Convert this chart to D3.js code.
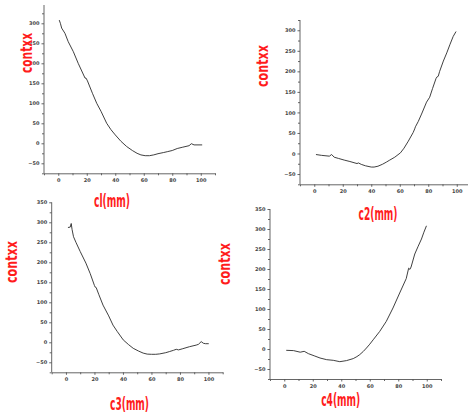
<!DOCTYPE html>
<html><head><meta charset="utf-8">
<script src="https://cdn.jsdelivr.net/npm/d3@7"></script>
<style>body{margin:0;background:#fff}svg{display:block}</style>
</head><body>
<svg id="chart" width="468" height="416"></svg>
<script>
// ---- data ----
const xTicks = [0, 20, 40, 60, 80, 100];
const yTicksTop = [-50, 0, 50, 100, 150, 200, 250, 300];
const yTicksBottom = [-50, 0, 50, 100, 150, 200, 250, 300, 350];
const xLabels = ["cl(mm)", "c2(mm)", "c3(mm)", "c4(mm)"];
const yLabel = "contxx";

const c1X = [0.7,1.5,2.4,4.7,7,10.6,14,18.8,19.5,20.5,24,27,30,34,37,40,44,48,52,55.3,58,61,64,67,70,74,76.5,80,83.5,87,91.8,93.4,95.3,101];
const c1Y = [308,300,288,275,254,229,200,163,163,156,125,100,80,50,34,21,5,-8,-18,-25,-29,-31,-31,-29,-26,-23,-21,-18,-13,-10,-6,-1,-4,-4];

const c2X = [1.2,5,10.6,12.2,14,17,21,25,30,31,33,36,40,42,44.7,48,50.6,53,56.5,60.5,63,66,69.4,70.5,71,73,75.3,78.8,81,83,85.5,86,87,88,90.6,93,95.3,97.5,99.5];
const c2Y = [-2.5,-4.5,-6.5,-2.5,-9,-12,-16,-19.5,-24.5,-23,-26.5,-30,-33,-33,-31,-26,-21,-16,-9,1.6,13,30,51,60,65,78,96,125,137,158,183,186,188,200,225,245,266,285,297];

const c3X = [1.4,3,3.7,4.3,5.3,7,10,14,17,20,20.5,21.2,23,26,30,33,36,40.2,44,47.2,51,54.2,57,60,63,65.8,70,72.8,75.5,77.4,79,82,86.7,91.4,93,94.9,96.5,98,100.2];
const c3Y = [287,288,297,282,264,250,227,198,172,142,138,137,120,93,66,43,27,6,-6,-15,-22,-27,-29.5,-30,-30,-29,-26,-23,-20,-17.5,-19,-16,-11,-7,-5,1.7,-2.5,-3.5,-3.5];

const c4X = [1.4,6.5,11.2,14,17,21,25.1,29.8,34.4,39,43.7,48.4,51,53,55.5,57.7,60,62.4,67,71.6,76.3,81,85.6,87.3,88.2,89,91.6,94,96.3,98,99.8];
const c4Y = [-3.3,-4,-8,-5.8,-11.7,-17,-22.5,-26.7,-28.3,-31.7,-29,-24,-19,-14,-6,2.5,12,23,44,69,102.5,140,176,202,199,205,237.5,257,275,292,308];

// ---- layout (positions only) ----
const panels = [
  {xs:c1X, ys:c1Y, xr:[44,215], yd:[-75,350], yr:[173.3,3.3], yAxisTop:5, yt:yTicksTop, lab:xLabels[0], lx:112, ly:207, lw:36, yx:31.5, yy:53, yw:40},
  {xs:c2X, ys:c2Y, xr:[300,471], yd:[-75,325], yr:[184.3,20], yAxisTop:20, yt:yTicksTop, lab:xLabels[1], lx:378, ly:220, lw:39, yx:267.5, yy:66, yw:42},
  {xs:c3X, ys:c3Y, xr:[51.7,222.7], yd:[-75,350], yr:[372.3,202.3], yAxisTop:202.3, yt:yTicksBottom, lab:xLabels[2], lx:129.5, ly:410, lw:39, yx:16.7, yy:262, yw:42},
  {xs:c4X, ys:c4Y, xr:[270,441], yd:[-75,350], yr:[379,209], yAxisTop:209, yt:yTicksBottom, lab:xLabels[3], lx:340.7, ly:406, lw:39, yx:230, yy:264, yw:42}
];

const svg = d3.select("#chart");
svg.append("rect").attr("width",468).attr("height",416).attr("fill","#fff");

const minorX = d3.range(-10, 111, 10).filter(v => !xTicks.includes(v));

panels.forEach(p => {
  const x = d3.scaleLinear().domain([-10,110]).range(p.xr);
  const y = d3.scaleLinear().domain(p.yd).range(p.yr);
  const g = svg.append("g");

  // x axis
  const xa = g.append("g").attr("transform", `translate(0,${p.yr[0]})`);
  xa.call(d3.axisBottom(x).tickValues(xTicks).tickSize(2.5).tickSizeOuter(0).tickPadding(3).tickFormat(d3.format("d")));
  const xm = g.append("g").attr("transform", `translate(0,${p.yr[0]})`);
  xm.call(d3.axisBottom(x).tickValues(minorX).tickSize(2).tickSizeOuter(0).tickFormat(""));
  xm.select(".domain").remove();

  // y axis
  const minorY = d3.range(-75, p.yd[1]+1, 25).filter(v => v % 50 !== 0 || !p.yt.includes(v));
  const ya = g.append("g").attr("transform", `translate(${p.xr[0]},0)`);
  ya.call(d3.axisLeft(y).tickValues(p.yt).tickSize(2.5).tickSizeOuter(0).tickPadding(2).tickFormat(d3.format("d")));
  ya.select(".domain").attr("d", `M0,${p.yr[0]}V${p.yAxisTop}`);
  const ym = g.append("g").attr("transform", `translate(${p.xr[0]},0)`);
  ym.call(d3.axisLeft(y).tickValues(minorY.filter(v => y(v) >= p.yAxisTop - 0.5)).tickSize(2).tickSizeOuter(0).tickFormat(""));
  ym.select(".domain").remove();

  g.selectAll(".domain").attr("stroke","#555").attr("stroke-width",0.9);
  g.selectAll(".tick line").attr("stroke","#555").attr("stroke-width",0.9);
  g.selectAll(".tick text").attr("font-size",5).attr("font-family","DejaVu Sans, sans-serif")
    .attr("font-weight","bold").attr("fill","#444");

  // curve
  const pts = p.xs.map((v,i) => [v, p.ys[i]]);
  g.append("path").datum(pts)
    .attr("fill","none").attr("stroke","#2a2a2a").attr("stroke-width",0.9)
    .attr("stroke-linejoin","round")
    .attr("d", d3.line().x(d => x(d[0])).y(d => y(d[1])).curve(d3.curveLinear));

  // labels
  g.append("text").text(p.lab)
    .attr("x", p.lx).attr("y", p.ly).attr("text-anchor","middle")
    .attr("font-family","'Liberation Sans Narrow', 'DejaVu Sans Condensed', sans-serif")
    .attr("font-weight","bold").attr("font-size",17).attr("fill","#ff1c1c")
    .attr("textLength", p.lw).attr("lengthAdjust","spacingAndGlyphs");
  g.append("text").text(yLabel)
    .attr("transform", `translate(${p.yx},${p.yy}) rotate(-90)`).attr("text-anchor","middle")
    .attr("font-family","'Liberation Sans Narrow', 'DejaVu Sans Condensed', sans-serif")
    .attr("font-weight","bold").attr("font-size",15).attr("fill","#ff1c1c")
    .attr("textLength", p.yw).attr("lengthAdjust","spacingAndGlyphs");
});
</script>
</body></html>
